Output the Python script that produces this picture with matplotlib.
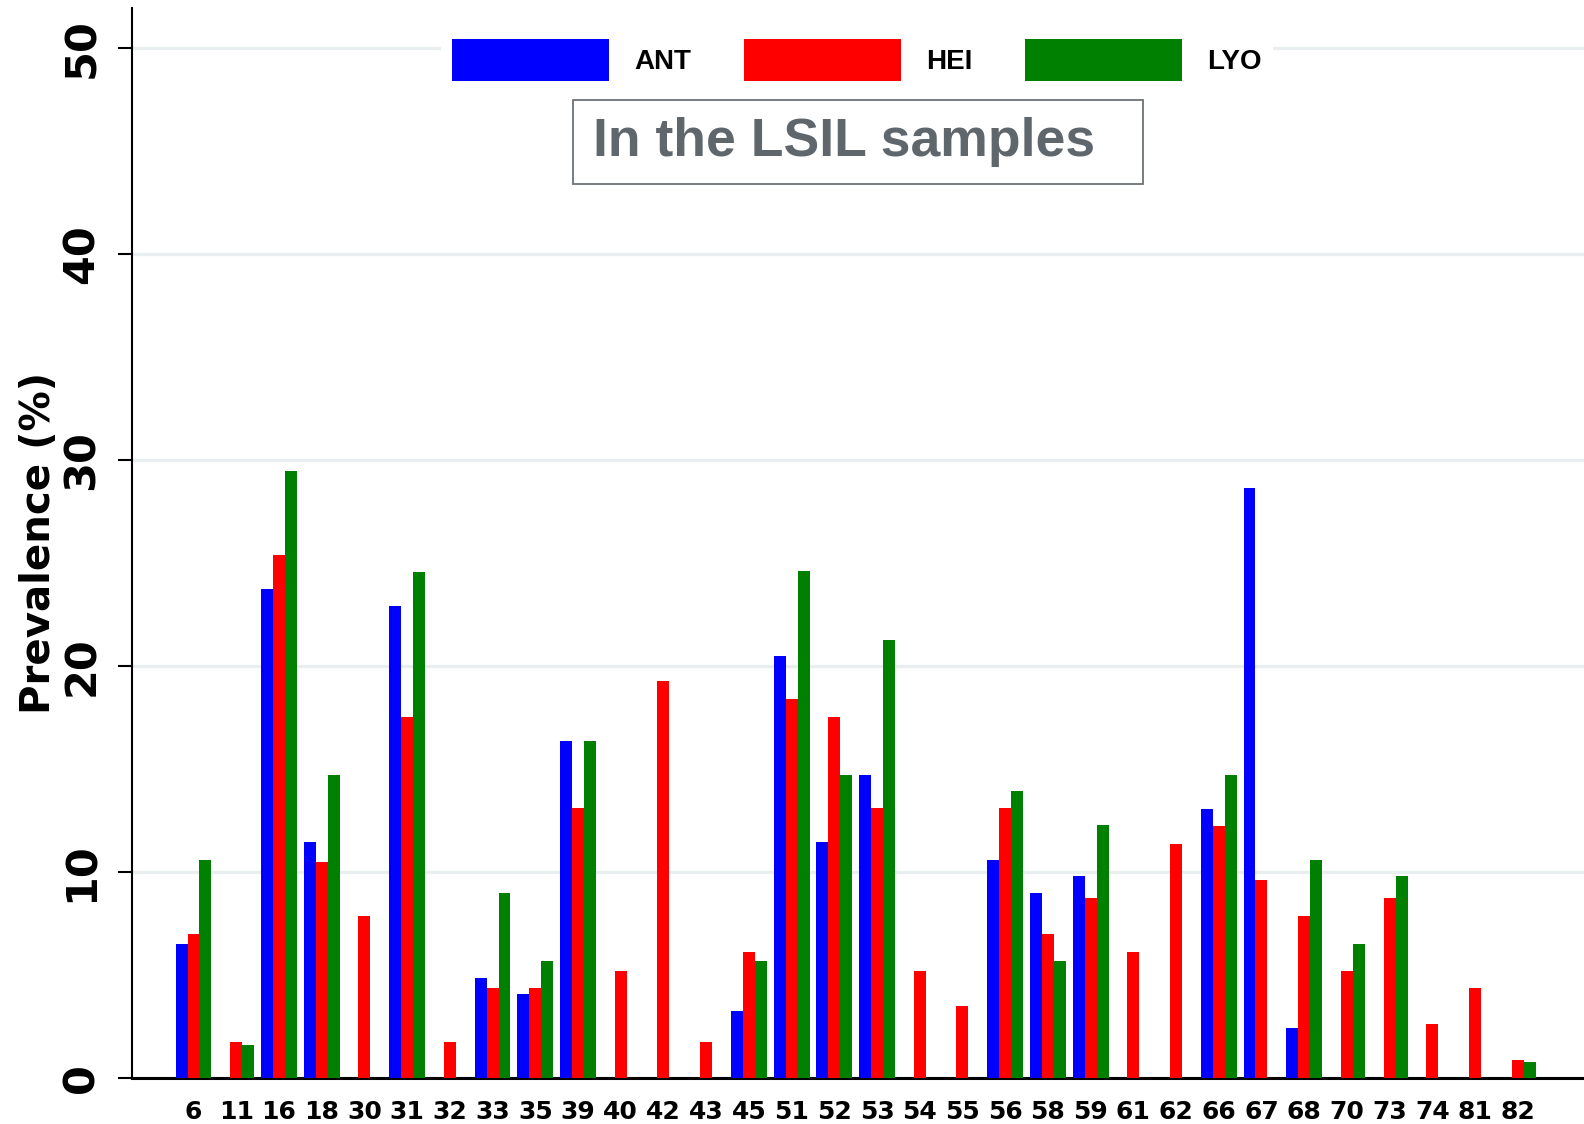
import numpy as np
import matplotlib
matplotlib.use('Agg')
import matplotlib.pyplot as plt
from matplotlib.patches import Rectangle, Patch

# HPV genotypes on the x axis
genotypes = ['6', '11', '16', '18', '30', '31', '32', '33', '35', '39', '40',
             '42', '43', '45', '51', '52', '53', '54', '55', '56', '58', '59',
             '61', '62', '66', '67', '68', '70', '73', '74', '81', '82']

# Prevalence (%) per centre
ant = [6.53, 0, 23.74, 11.46, 0, 22.92, 0, 4.88, 4.07, 16.36, 0,
       0, 0, 3.25, 20.48, 11.46, 14.70, 0, 0, 10.61, 8.97, 9.82,
       0, 0, 13.07, 28.67, 2.42, 0, 0, 0, 0, 0]
hei = [7.00, 1.74, 25.42, 10.50, 7.85, 17.53, 1.74, 4.37, 4.37, 13.13, 5.20,
       19.29, 1.74, 6.11, 18.42, 17.53, 13.13, 5.20, 3.48, 13.13, 7.00, 8.74,
       6.11, 11.35, 12.24, 9.63, 7.85, 5.20, 8.74, 2.61, 4.37, 0.85]
lyo = [10.61, 1.61, 29.49, 14.70, 0, 24.59, 0, 8.97, 5.69, 16.36, 0,
       0, 0, 5.69, 24.61, 14.70, 21.28, 0, 0, 13.92, 5.69, 12.29,
       0, 0, 14.70, 0, 10.61, 6.53, 9.82, 0, 0, 0.79]

series = [('ANT', ant, '#0000ff'), ('HEI', hei, '#ff0000'), ('LYO', lyo, '#008000')]

W, H = 1584, 1124
fig = plt.figure(figsize=(W / 100, H / 100), dpi=100)
ax = fig.add_axes([132 / W, 1 - 1078 / H, 1 - 132 / W, (1078 - 8) / H])

x = np.arange(len(genotypes))
width = 0.28
for i, (name, vals, color) in enumerate(series):
    ax.bar(x + (i - 1) * width, vals, width, color=color, label=name, zorder=3)

ax.set_ylim(0, 51.96)
ax.set_xlim(-1.44, 32.55)
ax.set_yticks([0, 10, 20, 30, 40, 50])
ax.yaxis.grid(True, color='#e9eef1', linewidth=2.4, zorder=0)
ax.set_axisbelow(True)

for side in ['top', 'right']:
    ax.spines[side].set_visible(False)
ax.spines['left'].set_linewidth(1.5)
ax.spines['bottom'].set_linewidth(2.2)

ax.set_xticks(x)
ax.set_xticklabels(genotypes, fontsize=18, fontweight='bold')
ax.tick_params(axis='x', length=0, pad=16)
ax.tick_params(axis='y', length=10, width=1.5, pad=11)
for lab in ax.get_yticklabels():
    lab.set_rotation(90)
    lab.set_fontsize(31)
    lab.set_fontweight('bold')
    lab.set_va('center')

ax.set_ylabel('Prevalence (%)', fontsize=29, fontweight='bold')
ax.yaxis.set_label_coords(-0.050, 0.5)

# legend across the top, white background hides the 50 gridline
handles = [Patch(facecolor=c, edgecolor='none') for _, _, c in series]
leg = ax.legend(handles, [s[0] for s in series], loc='center',
                bbox_to_anchor=(857 / W, 1 - 60 / H), bbox_transform=fig.transFigure,
                ncol=3, frameon=True, fancybox=False, framealpha=1,
                facecolor='white', edgecolor='none',
                handlelength=5.65, handleheight=2.0, handletextpad=0.9,
                columnspacing=1.9, borderpad=0.4,
                prop={'family': ['Liberation Sans', 'DejaVu Sans'], 'weight': 'bold', 'size': 20})

# boxed subtitle
fig.patches.append(Rectangle((573 / W, 1 - 184 / H), (1143 - 573) / W, (184 - 100) / H,
                             transform=fig.transFigure, facecolor='white',
                             edgecolor='#6b7275', linewidth=1.3, zorder=5))
fig.text(593 / W, 1 - 142 / H, 'In the LSIL samples', fontsize=38.5, fontweight='bold',
         family=['Liberation Sans', 'DejaVu Sans'], color='#5f676c',
         ha='left', va='center', zorder=6)

fig.savefig('out.png', dpi=100)
